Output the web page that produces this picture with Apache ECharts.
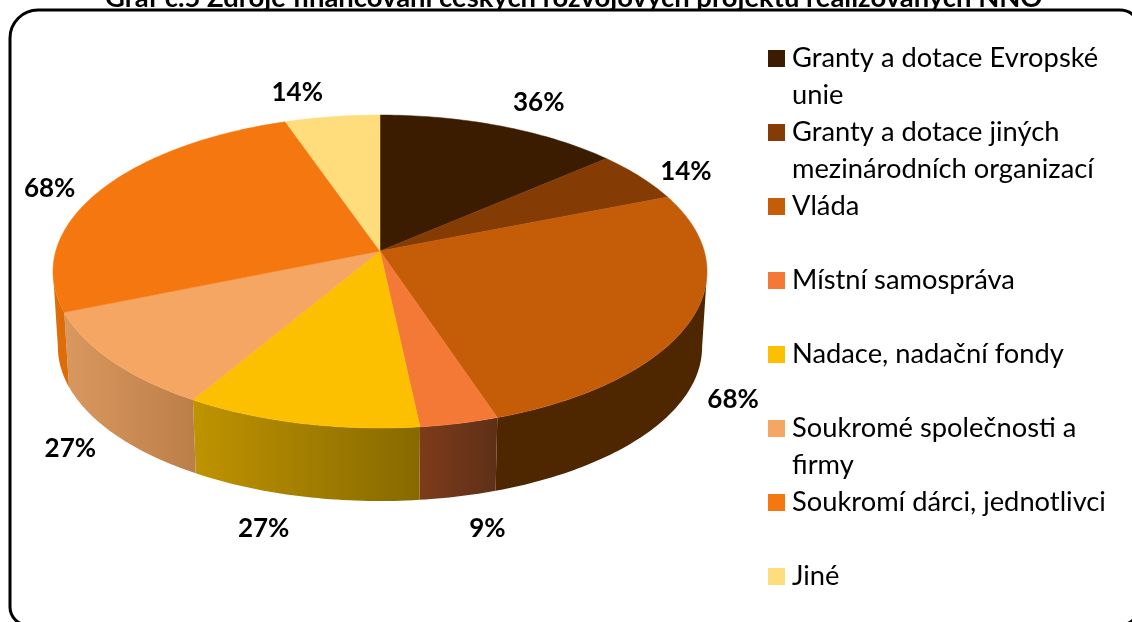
<!DOCTYPE html>
<html>
<head>
<meta charset="utf-8">
<title>Zdroje financování</title>
<script src="https://cdn.jsdelivr.net/npm/echarts@6/dist/echarts.min.js"></script>
<style>
  html, body { margin: 0; padding: 0; background: #fff; }
  #chart { width: 1132px; height: 622px; }
</style>
</head>
<body>
<div id="chart"></div>
<script>
const titleText = 'Graf č.5 Zdroje financování českých rozvojových projektů realizovaných NNO'
const categories = [
  'Granty a dotace Evropské\nunie',
  'Granty a dotace jiných\nmezinárodních organizací',
  'Vláda',
  'Místní samospráva',
  'Nadace, nadační fondy',
  'Soukromé společnosti a\nfirmy',
  'Soukromí dárci, jednotlivci',
  'Jiné'
]
const values = [36, 14, 68, 9, 27, 27, 68, 14]

// barvy
const topColors = ['#3B1C00', '#843C04', '#C55C08', '#F47836', '#FCC000', '#F5A662', '#F4770F', '#FFDD7C']
const wallColors = [
  ['#2A1400', '#2A1400'], ['#5A2900', '#5A2900'], ['#4E2600', '#4E2600'], ['#7D3B1A', '#5E3018'],
  ['#BF9300', '#866900'], ['#D9985F', '#BC7E48'], ['#DE6C08', '#DE6C08'], ['#C0A050', '#C0A050']
]

// posun popisku od okraje vysece
const labelShift = [[38, -23], [46, -5], [42, 80], [28, 105], [-37, 105], [-41, 88], [-50, -2], [-35, -24]]

// geometrie kolace v perspektive
const cx = 380
const cy = 251
const ra = 324.2
const rb = 153.8
const persp = 0.131
const wallDrop = 75.7
const wallScale = 0.985

// uhly, kde je kolac nejsirsi - bocni stena je videt jen mezi nimi
const wallFrom = Math.acos(-persp) * 180 / Math.PI
const wallTo = 360 - wallFrom

const total = values.reduce((a, b) => a + b, 0)

function rim (deg, scale, drop) {
  let phi = deg * Math.PI / 180
  let w = 1 + persp * Math.cos(phi)
  return [
    cx + scale * ra * Math.sin(phi) / w,
    cy + drop - scale * rb * Math.cos(phi) / w
  ]
}

function arc (from, to, scale, drop) {
  let pts = []
  let n = Math.max(2, Math.ceil(Math.abs(to - from)))
  for (let i = 0; i <= n; i++) {
    pts.push(rim(from + (to - from) * i / n, scale, drop))
  }
  return pts
}

function renderSlice (index) {
  let start = values.slice(0, index).reduce((a, b) => a + b, 0) / total * 360
  let end = start + values[index] / total * 360
  let mid = rim((start + end) / 2, 1, 0)
  let wall = wallColors[index]
  let a = Math.max(start, wallFrom)
  let b = Math.min(end, wallTo)
  return function () {
    let children = [
      {
        type: 'polygon',
        z2: 2,
        shape: { points: [[cx, cy]].concat(arc(start, end, 1, 0)) },
        style: { fill: topColors[index], stroke: topColors[index], lineWidth: 0.5 }
      },
      {
        type: 'text',
        z2: 3,
        style: {
          text: values[index] + '%',
          x: mid[0] + labelShift[index][0],
          y: mid[1] + labelShift[index][1],
          align: 'center',
          verticalAlign: 'middle',
          font: 'bold 26px Lato',
          fill: '#000'
        }
      }
    ]
    if (a < b) {
      children.push({
        type: 'polygon',
        z2: 1,
        shape: { points: arc(a, b, 1, 0).concat(arc(b, a, wallScale, wallDrop)) },
        style: {
          fill: new echarts.graphic.LinearGradient(0, 0, 1, 0, [
            { offset: 0, color: wall[0] },
            { offset: 1, color: wall[1] }
          ])
        }
      })
    }
    return { type: 'group', children: children }
  }
}

let chart = echarts.init(document.getElementById('chart'))
chart.setOption({
  animation: false,
  backgroundColor: '#fff',
  title: {
    text: titleText,
    left: 105,
    top: -15,
    padding: 0,
    textStyle: { fontFamily: 'Lato', fontSize: 27.4, fontWeight: 'bold', color: '#000' }
  },
  legend: {
    orient: 'vertical',
    left: 768,
    top: 40,
    height: 700,
    padding: 0,
    itemGap: 0,
    itemWidth: 19,
    itemHeight: 74,
    symbolKeepAspect: false,
    // ctverecek je na prvnim radku popisku, proto ikona vysoka 74
    icon: 'path://M0 0L0 0M19 74L19 74M0 10H17V27H0Z',
    selectedMode: false,
    formatter: function (name) {
      return name.indexOf('\n') > -1 ? name : name + '\n '
    },
    textStyle: { fontFamily: 'Lato', fontSize: 27.3, lineHeight: 37, color: '#000' },
    data: categories
  },
  graphic: [{
    type: 'rect',
    silent: true,
    shape: { x: 10, y: 10, width: 1130, height: 615, r: [28, 20, 20, 18] },
    style: { fill: 'none', stroke: '#000', lineWidth: 3 }
  }],
  series: categories.map(function (name, i) {
    let draw = renderSlice(i)
    return {
      type: 'custom',
      name: name,
      coordinateSystem: 'none',
      silent: true,
      itemStyle: { color: topColors[i] },
      renderItem: draw,
      data: [[values[i]]]
    }
  })
})
</script>
</body>
</html>
